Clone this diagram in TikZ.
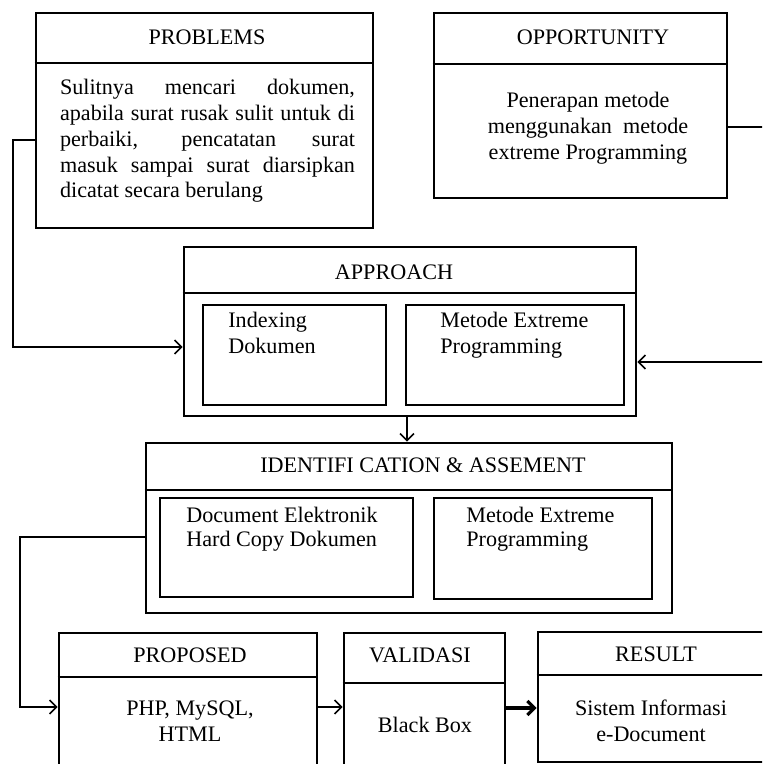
\documentclass[tikz,border=0pt]{standalone}
\usepackage{fontspec}
\setmainfont{Liberation Serif}
\usetikzlibrary{arrows.meta,positioning}

\begin{document}
\begin{tikzpicture}[x=0.02cm, y=-0.02cm,
        box/.style={draw, line width=1.5pt, inner sep=0pt},
        inbox/.style={draw, line width=1.2pt, inner sep=0pt},
        divider/.style={line width=0.8pt},
        txt/.style={font=\fontsize{12.6}{14.7}\selectfont, inner sep=0pt},
        conn/.style={line width=0.9pt},
        arr/.style={line width=0.9pt, -{Straight Barb[length=4pt,width=8pt]}}]
        \useasboundingbox (0,0) rectangle (762,764);
        \clip (0,0) rectangle (762,764);
        % top row
        \node[box, minimum width=6.74cm, minimum height=4.3cm] (prob) at (204.5,120.5) {};
        \draw[divider] (prob.west |- 0,63) -- (prob.east |- 0,63);
        \node[txt] (probt) at (207,37) {PROBLEMS};
        \node[txt, text width=5.9cm, align=justify] (probb) at (207.5,141) {Sulitnya mencari dokumen,\linebreak apabila surat rusak sulit untuk di\linebreak perbaiki, pencatatan surat\linebreak masuk sampai surat diarsipkan\linebreak dicatat secara berulang};
        \node[box, minimum width=5.86cm, minimum height=3.7cm] (opp) at (580.5,105.5) {};
        \draw[divider] (opp.west |- 0,64) -- (opp.east |- 0,64);
        \node[txt] (oppt) at (593,37) {OPPORTUNITY};
        \node[txt, align=center] (oppb) at (588,128) {Penerapan metode\\menggunakan\ \ metode\\extreme Programming};
        % approach
        \node[box, minimum width=9.04cm, minimum height=3.38cm] (appr) at (410,331.5) {};
        \draw[divider] (appr.west |- 0,293) -- (appr.east |- 0,293);
        \node[txt] (apprt) at (394,272) {APPROACH};
        \node[inbox, minimum width=3.66cm, minimum height=2cm] (idx) at (294.5,355) {};
        \node[inbox, minimum width=4.36cm, minimum height=2cm] (xp) at (515,355) {};
        \node[txt, align=left, anchor=north west] (idxt) at (228,312) {Indexing\\Dokumen};
        \node[txt, align=left, anchor=north west] (xpt) at (440,312) {Metode Extreme\\Programming};
        % identification
        \node[box, minimum width=10.52cm, minimum height=3.4cm] (iden) at (409,528) {};
        \draw[divider] (iden.west |- 0,490) -- (iden.east |- 0,490);
        \node[txt] (ident) at (423,465) {IDENTIFI CATION \& ASSEMENT};
        \node[inbox, minimum width=5.06cm, minimum height=1.98cm] (doc) at (286.5,547.5) {};
        \node[inbox, minimum width=4.36cm, minimum height=2.02cm] (xp2) at (543,548.5) {};
        \node[txt, align=left, anchor=north west, font=\fontsize{12.6}{13.8}\selectfont] (doct) at (186,507) {Document Elektronik\\Hard Copy Dokumen};
        \node[txt, align=left, anchor=north west, font=\fontsize{12.6}{13.8}\selectfont] (xp2t) at (466,507) {Metode Extreme\\Programming};
        % bottom row
        \node[box, minimum width=5.16cm, minimum height=3.34cm] (prop) at (188,716.5) {};
        \draw[divider] (prop.west |- 0,677) -- (prop.east |- 0,677);
        \node[txt] (propt) at (190,655) {PROPOSED};
        \node[txt, align=center] (propb) at (190,721) {PHP, MySQL,\\HTML};
        \node[box, minimum width=3.22cm, minimum height=3.34cm] (val) at (424.5,716.5) {};
        \draw[divider] (val.west |- 0,683) -- (val.east |- 0,683);
        \node[txt] (valt) at (420,655) {VALIDASI};
        \node[txt] (valb) at (425,725) {Black Box};
        \node[box, minimum width=4.64cm, minimum height=2.6cm] (res) at (654,697) {};
        \draw[divider] (res.west |- 0,675) -- (res.east |- 0,675);
        \node[txt] (rest) at (656,654) {RESULT};
        \node[txt, align=center] (resb) at (651,721) {Sistem Informasi\\e-Document};
        % connectors
        \coordinate (lp) at (13,140);
        \coordinate (la) at (13,347);
        \draw[arr] (prob.west |- lp) -- (lp) -- (la) -- (appr.west |- la);
        \coordinate (ro) at (770,127);
        \coordinate (ra) at (770,362);
        \draw[arr] (opp.east |- ro) -- (ro) -- (ra) -- (appr.east |- ra);
        \draw[arr] (appr.south -| 407,0) -- (iden.north -| 407,0);
        \coordinate (li) at (20,537);
        \coordinate (lq) at (20,707);
        \draw[arr] (iden.west |- li) -- (li) -- (lq) -- (prop.west |- lq);
        \draw[arr] (prop.east |- 0,707) -- (val.west |- 0,707);
        \draw[arr, line width=1.8pt] (val.east |- 0,708) -- (res.west |- 0,708);
\end{tikzpicture}
\end{document}
